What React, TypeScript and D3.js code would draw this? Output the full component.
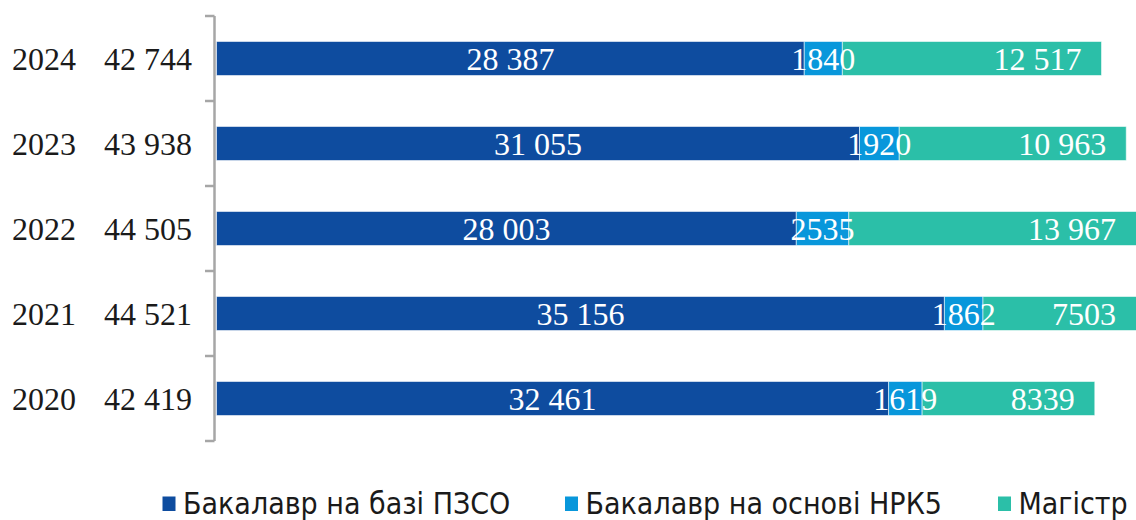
import React from "react";
import * as d3 from "d3";

const years = ["2024", "2023", "2022", "2021", "2020"];
const totals = [42744, 43938, 44505, 44521, 42419];
const bachelorPZSO = [28387, 31055, 28003, 35156, 32461];
const bachelorNRK5 = [1840, 1920, 2535, 1862, 1619];
const master = [12517, 10963, 13967, 7503, 8339];
const seriesNames = ["Бакалавр на базі ПЗСО", "Бакалавр на основі НРК5", "Магістр"];
const seriesColors = ["#0E4C9F", "#0897DB", "#2BBFA8"];

const W = 1136;
const H = 520;

function fmt(v: number): string {
  if (v >= 10000) {
    const s = String(v);
    return s.slice(0, s.length - 3) + " " + s.slice(s.length - 3);
  }
  return String(v);
}

export default function App() {
  const x = d3.scaleLinear().domain([0, 50000]).range([216.5, 216.5 + 50000 * 0.020705]);
  const y = d3.scaleBand().domain(years).range([16, 441]).paddingInner(0.6).paddingOuter(0.3);
  const band = d3.scaleBand().domain(years).range([16, 441]);
  const rows = years.map((yr, i) => ({ yr, vals: [bachelorPZSO[i], bachelorNRK5[i], master[i]] }));
  const stack = d3.stack<any>().keys(["0", "1", "2"]).value((d: any, k: string) => d.vals[+k]);
  const stacked = stack(rows as any);
  const serif = "'Liberation Serif', 'Times New Roman', serif";
  const legendX = [162.5, 565, 998];
  return (
    <svg width={W} height={H} style={{ position: "absolute", left: 0, top: 0, background: "#fff" }}
      fontFamily={serif}>
      <defs>
        <clipPath id="plot"><rect x={0} y={0} width={W} height={H} /></clipPath>
      </defs>
      <g clipPath="url(#plot)">
        {stacked.map((s, si) =>
          s.map((d, i) => {
            const x0 = x(d[0]);
            const x1 = x(d[1]);
            const yy = y(years[i])!;
            return (
              <rect key={si + "-" + i} x={x0} y={yy} width={x1 - x0} height={y.bandwidth()}
                fill={seriesColors[si]} stroke="#ffffff" strokeOpacity={0.55} strokeWidth={1} />
            );
          })
        )}
        {stacked.map((s, si) =>
          s.map((d, i) => {
            const x0 = x(d[0]);
            const x1 = x(d[1]);
            const cy = y(years[i])! + y.bandwidth() / 2;
            let tx = (x0 + x1) / 2;
            let anchor = "middle";
            if (si === 2) {
              tx = Math.min(x1, W) - 20;
              anchor = "end";
            }
            return (
              <text key={"l" + si + "-" + i} x={tx} y={cy + 11.5} textAnchor={anchor}
                fontSize={32} fill="#ffffff">{fmt(rows[i].vals[si])}</text>
            );
          })
        )}
      </g>
      {years.map((yr, i) => {
        const cy = y(yr)! + y.bandwidth() / 2;
        return (
          <g key={"c" + yr}>
            <text x={12} y={cy + 11.5} fontSize={32} fill="#1a1a1a">{yr}</text>
            <text x={192} y={cy + 11.5} fontSize={32} fill="#1a1a1a" textAnchor="end">{fmt(totals[i])}</text>
          </g>
        );
      })}
      <g stroke="#A6A6A6" strokeWidth={2.5} fill="none">
        <line x1={214.5} x2={214.5} y1={band(years[0])!} y2={band(years[4])! + band.bandwidth()} />
        {years.map((yr) => (
          <line key={"t" + yr} x1={205} x2={214.5} y1={band(yr)!} y2={band(yr)!} />
        ))}
        <line x1={205} x2={214.5} y1={band(years[4])! + band.bandwidth()} y2={band(years[4])! + band.bandwidth()} />
      </g>
      {seriesNames.map((n, i) => (
        <g key={"lg" + i}>
          <rect x={legendX[i]} y={496.5} width={13} height={14.5} fill={seriesColors[i]} />
          <text x={legendX[i] + 20.5} y={514} fontSize={30}
            fontFamily="'Liberation Sans Narrow', 'DejaVu Sans Condensed', sans-serif"
            fill="#1a1a1a">{n}</text>
        </g>
      ))}
    </svg>
  );
}
